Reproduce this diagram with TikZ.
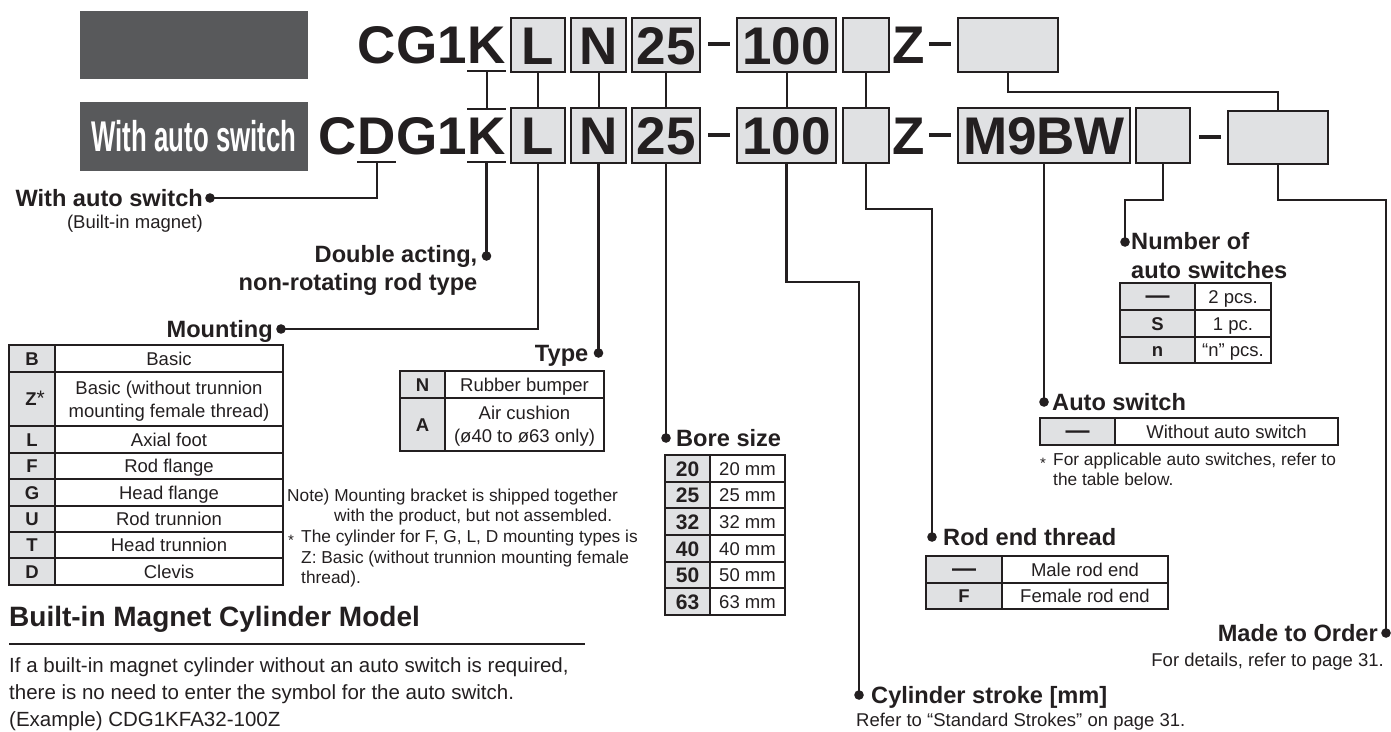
\documentclass[tikz,border=0pt]{standalone}
\usepackage{fontspec}
\setmainfont{Liberation Sans}
\newfontfamily\narrowfont[FakeStretch=0.6]{Liberation Sans}
\usetikzlibrary{calc,positioning}

\definecolor{boxgray}{RGB}{224,225,227}
\definecolor{darkbox}{RGB}{88,89,91}
\definecolor{ink}{RGB}{35,31,32}

\newcommand\codefont{\fontsize{53}{53}\selectfont\bfseries}
\newcommand\lblfont{\fontsize{23.6}{28.3}\selectfont\bfseries}
\newcommand\subfont{\fontsize{18.5}{22}\selectfont}
\newcommand\cellfont{\fontsize{18.5}{22.8}\selectfont}
\newcommand\notefont{\fontsize{17.3}{20.6}\selectfont}
\newcommand\noteast{\raisebox{-3.2pt}{\fontsize{15}{15}\selectfont *}}

\begin{document}
\begin{tikzpicture}[x=1pt, y=-1pt, color=ink,
    codebox/.style={draw, line width=1.8pt, fill=boxgray, inner sep=0pt,
      font=\codefont, text height=38pt, text depth=0pt},
    codetxt/.style={inner sep=0pt, font=\codefont, text height=38pt, text depth=0pt},
    link/.style={line width=2pt},
    lead/.style={line width=2.4pt},
    lbl/.style={inner sep=0pt, font=\lblfont, text height=17pt, text depth=0pt},
    lbltwo/.style={inner sep=0pt, font=\lblfont},
    sub/.style={inner sep=0pt, font=\subfont, text height=13.3pt, text depth=0pt},
    keycell/.style={inner sep=0pt, font=\cellfont\bfseries, text height=13.3pt, text depth=0pt},
    txtcell/.style={inner sep=0pt, font=\cellfont, text height=13.3pt, text depth=0pt},
    celltwo/.style={inner sep=0pt, font=\cellfont, align=center},
    frame/.style={line width=2pt},
    rowline/.style={line width=1.5pt}]

  \useasboundingbox (0,0) rectangle (1391,731);

  % series header boxes
  \node[fill=darkbox, minimum width=228pt, minimum height=68pt, inner sep=0pt] (serbox) at (194,45) {};
  \node[fill=darkbox, minimum width=228pt, minimum height=69pt, inner sep=0pt, text=white,
    font=\narrowfont\fontsize{43}{43}\selectfont\bfseries] (swbox) at (194,136.5) {With auto switch};

  % model code, standard
  \node[codetxt] (K1) at (486.5,44.5) {K};
  \node[codetxt, anchor=east] (CG1) at (K1.west) {CG1};
  \node[codebox, minimum width=54pt, minimum height=54pt] (mnt1) at (538,45) {L};
  \node[codebox, minimum width=55pt, minimum height=54pt] (typ1) at (598.5,45) {N};
  \node[codebox, minimum width=68pt, minimum height=54pt] (bore1) at (666,45) {25};
  \draw[line width=4pt] (708,44) -- (730,44);
  \node[codebox, minimum width=99pt, minimum height=54pt] (strk1) at (786.5,45) {100};
  \node[codebox, minimum width=46pt, minimum height=54pt] (rod1) at (866,45) {};
  \node[codetxt] (Z1) at (909,44.5) {Z};
  \draw[line width=4pt] (929,44) -- (951,44);
  \node[codebox, minimum width=100pt, minimum height=54pt] (mto1) at (1008,45) {};

  % model code, with auto switch
  \node[codetxt] (K2) at (486.5,135) {K};
  \node[codetxt, anchor=east] (G2) at (K2.west) {G1};
  \node[codetxt, anchor=east] (D2) at (G2.west) {D};
  \node[codetxt, anchor=east] (C2) at (D2.west) {C};
  \node[codebox, minimum width=54pt, minimum height=55pt] (mnt2) at (538,135.5) {L};
  \node[codebox, minimum width=55pt, minimum height=55pt] (typ2) at (598.5,135.5) {N};
  \node[codebox, minimum width=68pt, minimum height=55pt] (bore2) at (666,135.5) {25};
  \draw[line width=4pt] (708,135) -- (730,135);
  \node[codebox, minimum width=99pt, minimum height=55pt] (strk2) at (786.5,135.5) {100};
  \node[codebox, minimum width=46pt, minimum height=55pt] (rod2) at (866,135.5) {};
  \node[codetxt] (Z2) at (909,135) {Z};
  \draw[line width=4pt] (929,135) -- (951,135);
  \node[codebox, minimum width=172pt, minimum height=55pt] (sw2) at (1044,135.5) {M9BW};
  \node[codebox, minimum width=54pt, minimum height=55pt] (num2) at (1163,135.5) {};
  \draw[line width=4pt] (1199,137) -- (1221,137);
  \node[codebox, minimum width=100pt, minimum height=53pt] (mto2) at (1278,137.5) {};

  % underlines
  \draw[lead] ($(K1.south west)+(0,7.5)$) -- ($(K1.south east)+(0,7.5)$);
  \draw[lead] ($(K2.north west)+(0,-7)$) -- ($(K2.north east)+(0,-7)$);
  \draw[lead] ($(K2.south west)+(0,8)$) -- ($(K2.south east)+(0,8)$);
  \draw[lead] ($(D2.south west)+(0,8)$) -- ($(D2.south east)+(0,8)$);

  % links between the two rows
  \draw[link] ($(K1.south)+(0,7.5)$) -- ($(K2.north)+(0,-7)$);
  \foreach \n in {mnt,typ,bore,strk,rod}
    \draw[link] (\n1.south) -- (\n2.north);
  \draw[link] (mto1.south) -- ++(0,19) -| (mto2.north);

  % lead ends
  \coordinate (wasdot) at (210,198);
  \coordinate (dbldot) at (486.5,256);
  \coordinate (mntdot) at (281,329);
  \coordinate (typdot) at (598.5,353);
  \coordinate (boredot) at (666,438);
  \coordinate (strkdot) at (859,695);
  \coordinate (roddot) at (932,537);
  \coordinate (swdot) at (1044,402);
  \coordinate (numdot) at (1125,242);
  \coordinate (mtodot) at (1386,633);

  \draw[lead] ($(D2.south)+(0,8)$) |- (wasdot);
  \draw[lead] ($(K2.south)+(0,8)$) -- (dbldot);
  \draw[lead] (mnt2.south) |- (mntdot);
  \draw[lead] (typ2.south) -- (typdot);
  \draw[lead] (bore2.south) -- (boredot);
  \draw[lead] (strk2.south) -- ++(0,118) -| (strkdot);
  \draw[lead] (rod2.south) -- ++(0,45) -| (roddot);
  \draw[lead] (sw2.south) -- (swdot);
  \draw[lead] (num2.south) -- ++(0,36) -| (numdot);
  \draw[lead] (mto2.south) -- ++(0,35) -| (mtodot);

  \foreach \d in {wasdot,dbldot,mntdot,typdot,boredot,strkdot,roddot,swdot,numdot,mtodot}
    \fill (\d) circle (4.8pt);

  % labels
  \node[lbl, anchor=east] (waslbl) at ($(wasdot)+(-7,0)$) {With auto switch};
  \node[sub, anchor=base east] (wassub) at ($(waslbl.south east)+(0,22)$) {(Built-in magnet)};
  \node[lbltwo, anchor=north east, align=right] (dbllbl) at ($(dbldot)+(-9,-11)$)
    {Double acting,\\non-rotating rod type};
  \node[lbl, anchor=east] (mntlbl) at ($(mntdot)+(-8,0)$) {Mounting};
  \node[lbl, anchor=east] (typlbl) at ($(typdot)+(-10,0)$) {Type};
  \node[lbl, anchor=west] (borelbl) at ($(boredot)+(10,0)$) {Bore size};
  \node[lbltwo, anchor=north west, align=left] (numlbl) at (1131,232.5) {Number of\\auto switches};
  \node[lbl, anchor=west] (swlbl) at ($(swdot)+(8,0)$) {Auto switch};
  \node[lbl, anchor=west] (rodlbl) at ($(roddot)+(11,0)$) {Rod end thread};
  \node[lbl, anchor=east] (mtolbl) at ($(mtodot)+(-8,0)$) {Made to Order};
  \node[sub, anchor=east] (mtosub) at ($(mtolbl.east)+(6,27)$) {For details, refer to page 31.};
  \node[lbl, anchor=west] (strklbl) at ($(strkdot)+(12,0)$) {Cylinder stroke [mm]};
  \node[sub, anchor=west] (strksub) at ($(strklbl.west)+(-15,25)$) {Refer to “Standard Strokes” on page 31.};

  % mounting table
  \fill[boxgray] (9,345) rectangle (55,585);
  \foreach \y in {372,426,453,479,506,532,558}
    \draw[rowline] (9,\y) -- (283,\y);
  \draw[rowline] (55,345) -- (55,585);
  \draw[frame] (9,345) rectangle (283,585);
  \foreach \y/\k/\t in {358.5/B/Basic, 439.5/L/Axial foot, 466/F/Rod flange, 492.5/G/Head flange,
      519/U/Rod trunnion, 545/T/Head trunnion, 571.5/D/Clevis} {
    \node[keycell] (m\k) at (32,\y) {\k};
    \node[txtcell] (m\k-d) at (169,\y) {\t};
  }
  \node[keycell] (mZ) at (35,399) {Z{\mdseries\fontsize{21}{21}\selectfont *}};
  \node[celltwo] (mZ-d) at (169,401) {Basic (without trunnion\\mounting female thread)};

  % mounting notes
  \node[inner sep=0pt, font=\notefont, align=left, anchor=north west] (mntnote) at (287,488.6)
    {Note) Mounting bracket is shipped together\\
     \hspace*{47pt}with the product, but not assembled.\\
     \makebox[14pt][l]{\hspace*{1pt}\noteast}The cylinder for F, G, L, D mounting types is\\
     \hspace*{14pt}Z: Basic (without trunnion mounting female\\
     \hspace*{14pt}thread).};

  % type table
  \fill[boxgray] (400,371) rectangle (445,451);
  \draw[rowline] (400,398) -- (604,398);
  \draw[rowline] (445,371) -- (445,451);
  \draw[frame] (400,371) rectangle (604,451);
  \node[keycell] (tN) at (422.5,384.5) {N};
  \node[txtcell] (tN-d) at (524.5,384.5) {Rubber bumper};
  \node[keycell] (tA) at (422.5,424.5) {A};
  \node[celltwo] (tA-d) at (524.5,426.5) {Air cushion\\(ø40 to ø63 only)};

  % bore size table
  \fill[boxgray] (665,455) rectangle (710,615);
  \foreach \y in {482,508,535,562,588}
    \draw[rowline] (665,\y) -- (785,\y);
  \draw[rowline] (710,455) -- (710,615);
  \draw[frame] (665,455) rectangle (785,615);
  \foreach \y/\v in {468.5/20, 495/25, 521.5/32, 548.5/40, 575/50, 601.5/63} {
    \node[keycell, font=\fontsize{21}{21}\selectfont\bfseries, text height=15pt] (b\v) at (687.5,\y) {\v};
    \node[txtcell] (b\v-d) at (747.5,\y) {\v\ mm};
  }

  % number of auto switches table
  \fill[boxgray] (1120,283) rectangle (1195,363);
  \foreach \y in {310,337}
    \draw[rowline] (1120,\y) -- (1271,\y);
  \draw[rowline] (1195,283) -- (1195,363);
  \draw[frame] (1120,283) rectangle (1271,363);
  \node[keycell, font=\fontsize{24}{24}\selectfont\bfseries] (n2) at (1157.5,296.5) {—};
  \node[txtcell] (n2-d) at (1233,296.5) {2 pcs.};
  \node[keycell] (nS) at (1157.5,323.5) {S};
  \node[txtcell] (nS-d) at (1233,323.5) {1 pc.};
  \node[keycell] (nn) at (1157.5,350) {n};
  \node[txtcell] (nn-d) at (1233,350) {“n” pcs.};

  % auto switch table
  \fill[boxgray] (1040,418) rectangle (1115,445);
  \draw[rowline] (1115,418) -- (1115,445);
  \draw[frame] (1040,418) rectangle (1338,445);
  \node[keycell, font=\fontsize{24}{24}\selectfont\bfseries] (s0) at (1077.5,431.5) {—};
  \node[txtcell] (s0-d) at (1226.5,431.5) {Without auto switch};
  \node[inner sep=0pt, font=\notefont, align=left, anchor=north west] (swnote) at (1040,452.6)
    {\makebox[13pt][l]{\noteast}For applicable auto switches, refer to\\
     \hspace*{13pt}the table below.};

  % rod end thread table
  \fill[boxgray] (926,556) rectangle (1002,609);
  \draw[rowline] (926,583) -- (1168,583);
  \draw[rowline] (1002,556) -- (1002,609);
  \draw[frame] (926,556) rectangle (1168,609);
  \node[keycell, font=\fontsize{24}{24}\selectfont\bfseries] (r0) at (964,569.5) {—};
  \node[txtcell] (r0-d) at (1085,569.5) {Male rod end};
  \node[keycell] (rF) at (964,596) {F};
  \node[txtcell] (rF-d) at (1085,596) {Female rod end};

  % built-in magnet model
  \node[anchor=base west, inner sep=0pt, font=\fontsize{28}{28}\selectfont\bfseries] (bimtitle) at (9,626)
    {Built-in Magnet Cylinder Model};
  \draw[line width=2pt] (9,644) -- (585,644);
  \node[anchor=north west, inner sep=0pt, align=left, font=\fontsize{20.5}{27}\selectfont] (bimtext) at (9,657)
    {If a built-in magnet cylinder without an auto switch is required,\\
     there is no need to enter the symbol for the auto switch.\\
     (Example) CDG1KFA32-100Z};
\end{tikzpicture}
\end{document}
